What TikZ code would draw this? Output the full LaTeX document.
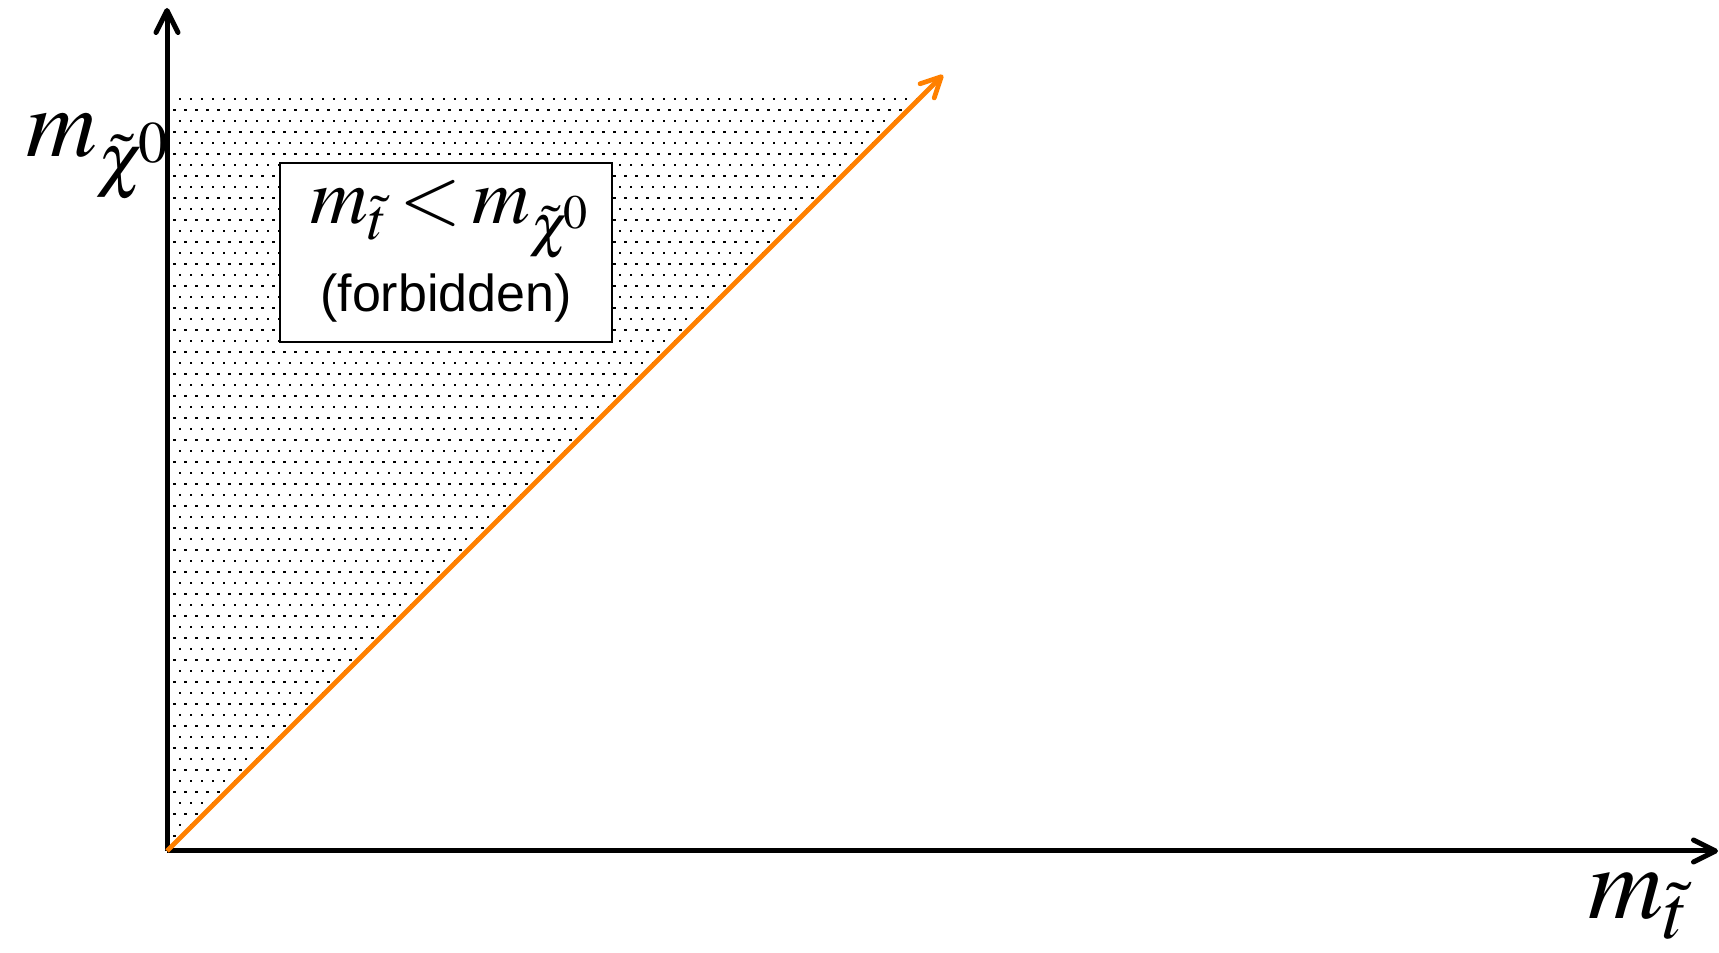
\documentclass[tikz,border=0pt]{standalone}
\usepackage{mathptmx}
\usepackage[no-math]{fontspec}
\newfontfamily\labelsans{Liberation Sans}
\usetikzlibrary{arrows.meta,positioning}
\definecolor{diagorange}{RGB}{255,128,0}

\tikzset{
  axis/.style={line width=2.5pt, -{Straight Barb[length=11pt,width=11pt,round]}},
  diag/.style={diagorange, line width=2.4pt, -{Straight Barb[length=10pt,width=10pt,round]}},
  notebox/.style={draw, line width=0.75pt, fill=white, minimum width=166pt,
                  minimum height=89.5pt, inner sep=0pt},
}

\begin{document}
\begin{tikzpicture}[x=0.5pt,y=0.5pt]
    \useasboundingbox (0,0) rectangle (1719,953);
    % Axis points
    \coordinate (O)    at (167,102);
    \coordinate (ytop) at (167,945);
    \coordinate (xend) at (1718,102);
    \coordinate (dtip) at (943,878);

    % Forbidden region: staggered dots, clipped to the triangle above the diagonal
    \begin{scope}
        \clip (169,856) -- (921,856) -- (169,104) -- cycle;
        \foreach \k in {0,...,68}{
            \pgfmathtruncatemacro\jmax{69-\k}
            \pgfmathsetmacro\xo{mod(\k,2)==0 ? 169 : 174.5}
            \foreach \j in {0,...,\jmax}
                \fill (\xo+11*\j-1.3, 854-11*\k-1.3) rectangle ++(2.6,2.6);
        }
    \end{scope}

    % Axes and diagonal
    \draw[axis] (O) -- (ytop);
    \draw[axis] (O) -- (xend);
    \draw[diag] (O) -- (dtip);

    % Axis labels
    \node[anchor=base west, inner sep=0pt] (ylab) at (26,796)
        {\fontsize{49}{49}\selectfont $m_{\tilde\chi^{\!0}}$};
    \node[anchor=base west, inner sep=0pt] (xlab) at (1588,34)
        {\fontsize{52}{52}\selectfont $m_{\tilde t}$};

    % Note box
    \node[notebox] (note) at (446,700.5) {};
    \node[anchor=base, inner sep=0pt] (ineq) at (450,729)
        {\fontsize{40}{40}\selectfont $m_{\tilde t} \mathbin{<} m_{\tilde\chi^{\!0}}$};
    \node[anchor=base, inner sep=0pt] (forb) at (446,641)
        {\fontsize{26}{26}\selectfont\labelsans (forbidden)};
\end{tikzpicture}
\end{document}
